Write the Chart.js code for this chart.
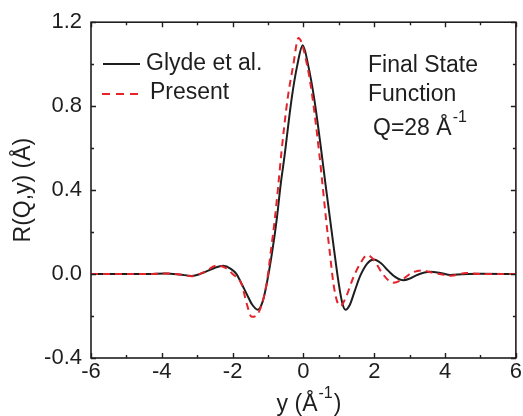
<!DOCTYPE html>
<html><head><meta charset="utf-8">
<script src="https://cdn.jsdelivr.net/npm/chart.js@4"></script>
<style>html,body{margin:0;padding:0;background:#fff}#wrap{width:523px;height:416px}canvas{display:block}</style>
</head><body><div id="wrap"><canvas id="c" width="523" height="416"></canvas></div>
<script>
const glydeX = [-6,-5,-4.4,-3.9,-3.5,-3.15,-2.8,-2.5,-2.27,-2.05,-1.89,-1.75,-1.6,-1.45,-1.29,-1.15,-1.04,-0.88,-0.75,-0.645,-0.543,-0.334,-0.176,-0.02,0.136,0.305,0.51,0.626,0.748,0.87,1.0,1.1,1.19,1.3,1.45,1.6,1.8,1.99,2.2,2.4,2.6,2.82,3.0,3.2,3.57,3.9,4.15,4.5,5,6];
const glydeY = [0,0,0,0.003,-0.002,-0.009,0.008,0.03,0.039,0.025,0,-0.045,-0.096,-0.145,-0.17,-0.13,-0.049,0.109,0.267,0.424,0.551,0.835,0.993,1.09,0.993,0.835,0.58,0.424,0.267,0.109,-0.049,-0.14,-0.17,-0.15,-0.08,-0.01,0.05,0.069,0.05,0.015,-0.015,-0.03,-0.022,-0.005,0.011,0.004,-0.004,-0.001,0.001,0];
const presentX = [-6,-5,-4.4,-3.9,-3.5,-3.15,-2.8,-2.45,-2.2,-2.0,-1.745,-1.6,-1.46,-1.35,-1.23,-1.04,-0.92,-0.805,-0.71,-0.62,-0.447,-0.29,-0.14,0.107,0.26,0.45,0.54,0.635,0.74,0.85,0.95,1.05,1.2,1.4,1.59,1.8,2.0,2.2,2.4,2.55,2.8,3.05,3.33,3.7,4.18,4.6,5,6];
const presentY = [0,0,0,0.003,-0.002,-0.01,0.01,0.04,0.03,0.0,-0.049,-0.143,-0.204,-0.2,-0.17,-0.045,0.109,0.267,0.424,0.582,0.835,0.993,1.125,0.993,0.835,0.57,0.424,0.267,0.109,-0.049,-0.13,-0.152,-0.11,-0.02,0.046,0.09,0.065,0.01,-0.03,-0.041,-0.025,0.005,0.017,0.005,-0.008,0.005,0,0];
const xMajorTicks = [-6,-4,-2,0,2,4,6];
const xMinorTicks = [-5,-3,-1,1,3,5];
const yMajorTicks = [-0.4,0,0.4,0.8,1.2];
const yMinorTicks = [-0.2,0.2,0.6,1.0];
const seriesLabels = ['Glyde et al.','Present'];

const FONT = '"Liberation Sans", Arial, sans-serif';
const INK = '#1e1e1e';
const RED = '#e4232b';

const decor = {
  id: 'decor',
  afterDatasetsDraw(chart) {
    const {ctx, chartArea: a, scales: {x, y}} = chart;
    ctx.save();
    ctx.strokeStyle = INK;
    ctx.lineWidth = 1.6;
    ctx.strokeRect(a.left, a.top, a.right - a.left, a.bottom - a.top);
    ctx.lineWidth = 1.4;
    const tx = (v, len) => {
      const px = Math.round(x.getPixelForValue(v)) + 0.5;
      ctx.beginPath();
      ctx.moveTo(px, a.bottom); ctx.lineTo(px, a.bottom - len);
      ctx.moveTo(px, a.top); ctx.lineTo(px, a.top + len);
      ctx.stroke();
    };
    const ty = (v, len) => {
      const py = Math.round(y.getPixelForValue(v)) + 0.5;
      ctx.beginPath();
      ctx.moveTo(a.left, py); ctx.lineTo(a.left + len, py);
      ctx.moveTo(a.right, py); ctx.lineTo(a.right - len, py);
      ctx.stroke();
    };
    xMajorTicks.forEach(v => tx(v, 5));
    xMinorTicks.forEach(v => tx(v, 3));
    yMajorTicks.forEach(v => ty(v, 5));
    yMinorTicks.forEach(v => ty(v, 3));

    // legend
    ctx.lineWidth = 2;
    ctx.strokeStyle = INK;
    ctx.beginPath(); ctx.moveTo(103, 64); ctx.lineTo(140, 64); ctx.stroke();
    ctx.strokeStyle = RED;
    ctx.setLineDash([8, 6]);
    ctx.beginPath(); ctx.moveTo(102, 94); ctx.lineTo(142, 94); ctx.stroke();
    ctx.setLineDash([]);
    ctx.fillStyle = INK;
    ctx.textBaseline = 'middle';
    ctx.textAlign = 'left';
    ctx.font = '23px ' + FONT;
    ctx.fillText(seriesLabels[0], 146, 64);
    ctx.fillText(seriesLabels[1], 150, 93);

    // annotation
    ctx.fillText('Final State', 368, 66);
    ctx.fillText('Function', 368, 95);
    ctx.fillText('Q=28 Å', 373, 129);
    let w = ctx.measureText('Q=28 Å').width;
    ctx.font = '16px ' + FONT;
    ctx.fillText('-1', 373 + w + 1, 118);

    // x title
    ctx.font = '23px ' + FONT;
    const p1 = 'y (Å', p3 = ')';
    const w1 = ctx.measureText(p1).width, w3 = ctx.measureText(p3).width;
    ctx.font = '16px ' + FONT;
    const w2 = ctx.measureText('-1').width;
    const total = w1 + w2 + 2 + w3;
    let sx = 309 - total / 2;
    ctx.font = '23px ' + FONT;
    ctx.fillText(p1, sx, 405);
    ctx.font = '16px ' + FONT;
    ctx.fillText('-1', sx + w1 + 1, 394);
    ctx.font = '23px ' + FONT;
    ctx.fillText(p3, sx + w1 + w2 + 2, 405);

    // y title
    ctx.save();
    ctx.translate(24, (a.top + a.bottom) / 2);
    ctx.rotate(-Math.PI / 2);
    ctx.textAlign = 'center';
    ctx.fillText('R(Q,y) (Å)', 0, 0);
    ctx.restore();
    ctx.restore();
  }
};

new Chart(document.getElementById('c'), {
  type: 'line',
  data: {
    datasets: [
      {
        label: seriesLabels[1],
        data: presentX.map((v, i) => ({x: v, y: presentY[i]})),
        borderColor: RED, borderWidth: 2, borderDash: [7, 5],
        pointRadius: 0, cubicInterpolationMode: 'monotone', fill: false, order: 0
      },
      {
        label: seriesLabels[0],
        data: glydeX.map((v, i) => ({x: v, y: glydeY[i]})),
        borderColor: INK, borderWidth: 2,
        pointRadius: 0, cubicInterpolationMode: 'monotone', fill: false, order: 1
      }
    ]
  },
  options: {
    responsive: false,
    animation: false,
    devicePixelRatio: 1,
    layout: {padding: {top: 20, right: 7, left: 0, bottom: 0}},
    plugins: {legend: {display: false}, tooltip: {enabled: false}},
    scales: {
      x: {
        type: 'linear', min: -6, max: 6,
        afterBuildTicks: s => { s.ticks = xMajorTicks.map(v => ({value: v})); },
        ticks: {font: {size: 22, family: FONT}, color: INK, padding: 1, maxRotation: 0,
                callback: v => String(v)},
        grid: {display: false, drawTicks: false},
        border: {display: false},
        afterFit: s => { s.height = 58; }
      },
      y: {
        type: 'linear', min: -0.4, max: 1.2,
        afterBuildTicks: s => { s.ticks = yMajorTicks.map(v => ({value: v})); },
        ticks: {font: {size: 22, family: FONT}, color: INK, padding: 9,
                callback: v => Number(v).toFixed(1)},
        grid: {display: false, drawTicks: false},
        border: {display: false},
        afterFit: s => { s.width = 91; }
      }
    }
  },
  plugins: [decor]
});
</script>
</body></html>
